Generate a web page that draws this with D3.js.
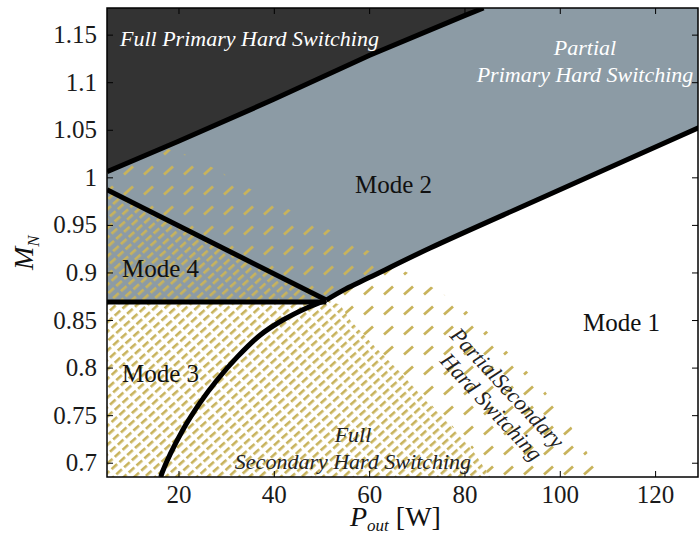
<!DOCTYPE html>
<html><head><meta charset="utf-8">
<script src="https://cdn.jsdelivr.net/npm/d3@7"></script>
<style>
body{margin:0;background:#fff;}
svg{display:block;}
text{font-family:"Liberation Serif","Times New Roman",serif !important;}
</style></head>
<body>
<svg id="c" width="699" height="537"></svg>
<script>
// ---- data (P_out [W], M_N) ----
const xTicks = [20, 40, 60, 80, 100, 120];
const yTicks = [0.7, 0.75, 0.8, 0.85, 0.9, 0.95, 1, 1.05, 1.1, 1.15];
const yTickLabels = ["0.7","0.75","0.8","0.85","0.9","0.95","1","1.05","1.1","1.15"];
const xDomain = [5, 129];
const yDomain = [0.685, 1.178];

// boundary of full primary hard switching region
const darkBoundary = [[5,1.006],[20,1.038],[40,1.082],[60,1.128],[80,1.170],[84,1.178]];
// lower boundary of Mode 2
const mode2Boundary = [[51,0.871],[55,0.8825],[60,0.8946],[72.8,0.9257],[95.2,0.9762],[129.5,1.0529]];
// Mode 4 upper line
const mode4Line = [[5,0.987],[51,0.871]];
// horizontal Mode 3 / Mode 4 line
const mode34Line = [[5,0.869],[51,0.869]];
// Mode 3 boundary curve
const mode3Curve = [[16.3,0.685],[16.6,0.690],[20.9,0.7344],[24.5,0.763],[28.1,0.787],[32.3,0.811],[37.1,0.834],[41.9,0.850],[47.0,0.863],[51,0.871]];
// partial secondary hard switching (sparse hatch) outer boundary
const sparseBoundary = [[5,1.05],[23.5,1.0207],[38.2,0.9787],[54.9,0.9366],[70.7,0.8924],[79.1,0.8661],[87.5,0.824],[95.9,0.782],[102.1,0.740],[108.0,0.693],[108.9,0.685]];
// full secondary hard switching (dense hatch) boundary
const denseBoundary = [[5,0.987],[51,0.871],[53.9,0.866],[56.0,0.850],[61.2,0.822],[66.5,0.795],[71.7,0.766],[77.0,0.740],[81.2,0.717],[85.4,0.685]];

// ---- layout ----
const L = 107, R = 698, T = 8, B = 477;
const x = d3.scaleLinear().domain(xDomain).range([L, R]);
const y = d3.scaleLinear().domain(yDomain).range([B, T]);
const svg = d3.select("#c");
const hatch = "#c8b35c", grey = "#8c9ba5", dark = "#333333";
const FONT = "'Liberation Serif','Times New Roman',serif";

const defs = svg.append("defs");
defs.append("clipPath").attr("id","plot").append("rect")
  .attr("x",L).attr("y",T).attr("width",R-L).attr("height",B-T);
const sp = defs.append("pattern").attr("id","sparse").attr("patternUnits","userSpaceOnUse")
  .attr("width",20).attr("height",20);
sp.append("line").attr("x1",4).attr("y1",14.5).attr("x2",13).attr("y2",6.5)
  .attr("stroke",hatch).attr("stroke-width",2.8);
const dp = defs.append("pattern").attr("id","dense").attr("patternUnits","userSpaceOnUse")
  .attr("width",10.5).attr("height",7).attr("patternTransform","rotate(-42)");
dp.append("rect").attr("x",0).attr("y",2).attr("width",7.5).attr("height",2.6).attr("fill",hatch);

const line = d3.line().x(d=>x(d[0])).y(d=>y(d[1]));
const g = svg.append("g").attr("clip-path","url(#plot)");

// grey region (modes 2 & 4)
const greyPoly = [[xDomain[0], mode34Line[0][1]], ...mode2Boundary, [xDomain[1]+2, yDomain[1]], [xDomain[0], yDomain[1]]];
g.append("path").attr("d", line(greyPoly)+"Z").attr("fill",grey);

// sparse hatch (minus dense area) and dense hatch
const sparsePoly = [...sparseBoundary, [xDomain[0], yDomain[0]]];
const densePoly = [...denseBoundary, [xDomain[0], yDomain[0]]];
g.append("path").attr("d", line(sparsePoly)+"Z"+line(densePoly.slice().reverse())+"Z")
  .attr("fill","url(#sparse)").attr("fill-rule","evenodd");
g.append("path").attr("d", line(densePoly)+"Z").attr("fill","url(#dense)");

// dark region
const darkPoly = [...darkBoundary, [xDomain[0], yDomain[1]+0.01]];
g.append("path").attr("d", line(darkPoly)+"Z").attr("fill",dark);

// boundary lines
[darkBoundary, mode4Line, mode34Line].forEach(p=>{
  g.append("path").attr("d", line(p)).attr("fill","none").attr("stroke","#000").attr("stroke-width",5);
});
const smooth = d3.line().x(d=>x(d[0])).y(d=>y(d[1])).curve(d3.curveCatmullRom.alpha(0.5));
g.append("path").attr("d", smooth(mode2Boundary)).attr("fill","none").attr("stroke","#000").attr("stroke-width",5);
g.append("path").attr("d", smooth(mode3Curve))
  .attr("fill","none").attr("stroke","#000").attr("stroke-width",5);

// frame & axes
svg.append("rect").attr("x",L).attr("y",T).attr("width",R-L).attr("height",B-T)
  .attr("fill","none").attr("stroke","#000").attr("stroke-width",1.5);
const xa = d3.axisBottom(x).tickValues(xTicks).tickSize(-6).tickPadding(8).tickFormat(d3.format("d"));
const xg = svg.append("g").attr("transform",`translate(0,${B})`).call(xa);
const xt = svg.append("g").attr("transform",`translate(0,${T})`).call(d3.axisTop(x).tickValues(xTicks).tickSize(-6).tickFormat(""));
const ya = d3.axisLeft(y).tickValues(yTicks).tickSize(-6).tickPadding(10).tickFormat((d,i)=>yTickLabels[i]);
const yg = svg.append("g").attr("transform",`translate(${L},0)`).call(ya);
const yr = svg.append("g").attr("transform",`translate(${R},0)`).call(d3.axisRight(y).tickValues(yTicks).tickSize(-6).tickFormat(""));
[xg,xt,yg,yr].forEach(a=>{
  a.attr("font-family",null).attr("font-size",null);
  a.select(".domain").remove();
  a.selectAll(".tick line").attr("stroke","#000").attr("stroke-width",1);
  a.selectAll("text").style("font-family",FONT).attr("font-size",25).attr("fill","#1a1a1a");
});
xg.selectAll(".tick text").attr("dy","0.71em");
yg.selectAll(".tick text").attr("dy","0.32em");

// axis titles
const xl = svg.append("text").attr("x",350).attr("y",526).attr("font-size",28).attr("fill","#111");
xl.append("tspan").attr("font-style","italic").text("P");
xl.append("tspan").attr("font-style","italic").attr("font-size",17).attr("dy",5).text("out");
xl.append("tspan").attr("dy",-5).text(" [W]");
const yl = svg.append("text").attr("transform","translate(33,270) rotate(-90)").attr("font-size",28).attr("fill","#111");
yl.append("tspan").attr("font-style","italic").text("M");
yl.append("tspan").attr("font-style","italic").attr("font-size",17).attr("dy",6).text("N");

// region labels
const lab = (t, px, py, o={}) => svg.append("text").attr("x",px).attr("y",py)
  .attr("font-size",o.size||25).attr("font-style",o.italic?"italic":null)
  .attr("fill",o.fill||"#111").attr("text-anchor",o.anchor||"start").text(t);
lab("Full Primary Hard Switching",120,46,{italic:true,fill:"#fff",size:22});
lab("Partial",585,55,{italic:true,fill:"#fff",size:22,anchor:"middle"});
lab("Primary Hard Switching",585,82,{italic:true,fill:"#fff",size:22,anchor:"middle"});
lab("Mode 2",355,193);
lab("Mode 4",122,277);
lab("Mode 3",122,382);
lab("Mode 1",583,331);
lab("Full",353,442,{italic:true,size:22,anchor:"middle",fill:"#222"});
lab("Secondary Hard Switching",353,469,{italic:true,size:22,anchor:"middle",fill:"#222"});
svg.append("text").attr("transform","translate(502,393) rotate(47)").attr("text-anchor","middle")
  .attr("font-size",22).attr("font-style","italic").attr("fill","#222").text("PartialSecondary");
svg.append("text").attr("transform","translate(486,412) rotate(47)").attr("text-anchor","middle")
  .attr("font-size",22).attr("font-style","italic").attr("fill","#222").text("Hard Switching");
</script>
</body></html>
